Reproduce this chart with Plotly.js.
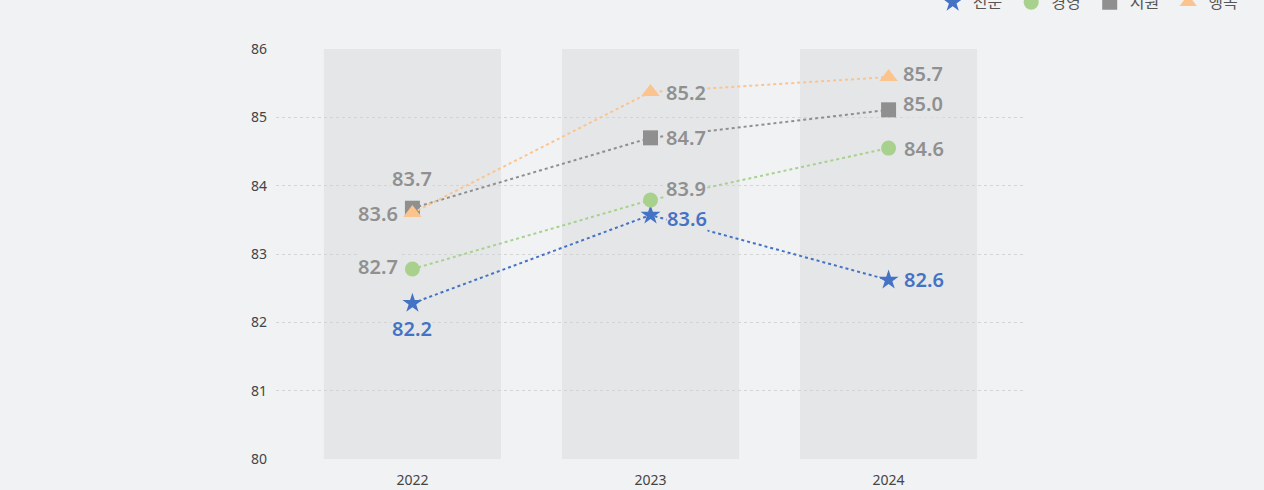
<!DOCTYPE html>
<html><head><meta charset="utf-8">
<script src="https://cdn.plot.ly/plotly-3.0.1.min.js"></script>
<style>html,body{margin:0;padding:0;background:#f1f2f4;}#chart{width:1264px;height:490px;}</style>
</head><body><div id="chart"></div>
<script>
const years = ['2022', '2023', '2024'];
const seriesNames = ['전문', '경영', '지원', '행복'];
const valJeonmun = [82.28, 83.57, 82.62];
const valGyeongyeong = [82.78, 83.79, 84.55];
const valJiwon = [83.67, 84.70, 85.11];
const valHaengbok = [83.60, 85.37, 85.59];
const lblJeonmun = ['82.2', '83.6', '82.6'];
const lblGyeongyeong = ['82.7', '83.9', '84.6'];
const lblJiwon = ['83.7', '84.7', '85.0'];
const lblHaengbok = ['83.6', '85.2', '85.7'];
const yTicks = [80, 81, 82, 83, 84, 85, 86];

const colors = ['#4472c4', '#a9d18e', '#8f8f8f', '#fbc48e'];
const symbols = ['star', 'circle', 'square', 'triangle-up'];
const sizes = [15, 15, 15, 16];
const vals = [valJeonmun, valGyeongyeong, valJiwon, valHaengbok];
const lbls = [lblJeonmun, lblGyeongyeong, lblJiwon, lblHaengbok];
// per-point label offsets [xshift, yshift]
const offs = [
  [[0,-25],[36,-3],[35,0]],
  [[-34,3],[35,12],[35,0]],
  [[0,30],[35,0],[34,6]],
  [[-34,0],[35,0],[34,4]]
];
const bandColor = '#e5e6e8';
const traces = [];
vals.forEach((v, i) => {
  traces.push({
    type: 'scatter', mode: 'lines+markers', name: seriesNames[i], showlegend: false,
    x: years, y: v,
    line: {color: colors[i], width: 2, dash: 'dot'},
    marker: {symbol: symbols[i], size: sizes[i], color: colors[i]},
    hoverinfo: 'skip'
  });
});
vals.forEach((v, i) => {
  traces.push({
    type: 'scatter', mode: 'markers', name: seriesNames[i], showlegend: true,
    x: [null], y: [null],
    marker: {symbol: symbols[i], size: 15, color: colors[i]}
  });
});
const annotations = [];
vals.forEach((v, i) => v.forEach((y, j) => {
  annotations.push({
    x: j, y: y, xref: 'x', yref: 'y', text: lbls[i][j], showarrow: false,
    xshift: offs[i][j][0], yshift: offs[i][j][1], bgcolor: bandColor, borderpad: 0,
    font: {family: 'Noto Sans, sans-serif', size: 20, color: i === 0 ? '#4472c4' : '#909090', weight: 600}
  });
}));
const halfBand = 0.372;
const shapes = years.map((yr, j) => ({
  type: 'rect', layer: 'below', xref: 'x', yref: 'paper',
  x0: j - halfBand, x1: j + halfBand, y0: 0, y1: 1,
  fillcolor: bandColor, line: {width: 0}
}));
const layout = {
  width: 1264, height: 490,
  margin: {l: 276, r: 239, t: 49, b: 31, autoexpand: false},
  paper_bgcolor: '#f1f2f4', plot_bgcolor: '#f1f2f4',
  showlegend: true,
  legend: {orientation: 'h', x: 1.296, xanchor: 'right', y: 1.114, yanchor: 'middle',
    entrywidth: 33.5, entrywidthmode: 'pixels',
    font: {family: 'Noto Sans CJK KR, sans-serif', size: 16, color: '#555'}, itemwidth: 30, bgcolor: 'rgba(0,0,0,0)'},
  xaxis: {type: 'category', range: [-0.573, 2.573], showgrid: false, zeroline: false, showline: false,
    tickfont: {family: 'Noto Sans, sans-serif', size: 14, color: '#444'}, ticks: '', ticklabelstandoff: 11},
  yaxis: {range: [80, 86], tickvals: yTicks, showgrid: true, gridcolor: '#d3d4d6', griddash: 'dot', gridwidth: 1,
    zeroline: false, showline: false, ticks: '', ticklabelstandoff: 8,
    tickfont: {family: 'Noto Sans, sans-serif', size: 14, color: '#444'}},
  shapes: shapes, annotations: annotations, hovermode: false
};
Plotly.newPlot('chart', traces, layout, {displayModeBar: false, staticPlot: true});
</script></body></html>
